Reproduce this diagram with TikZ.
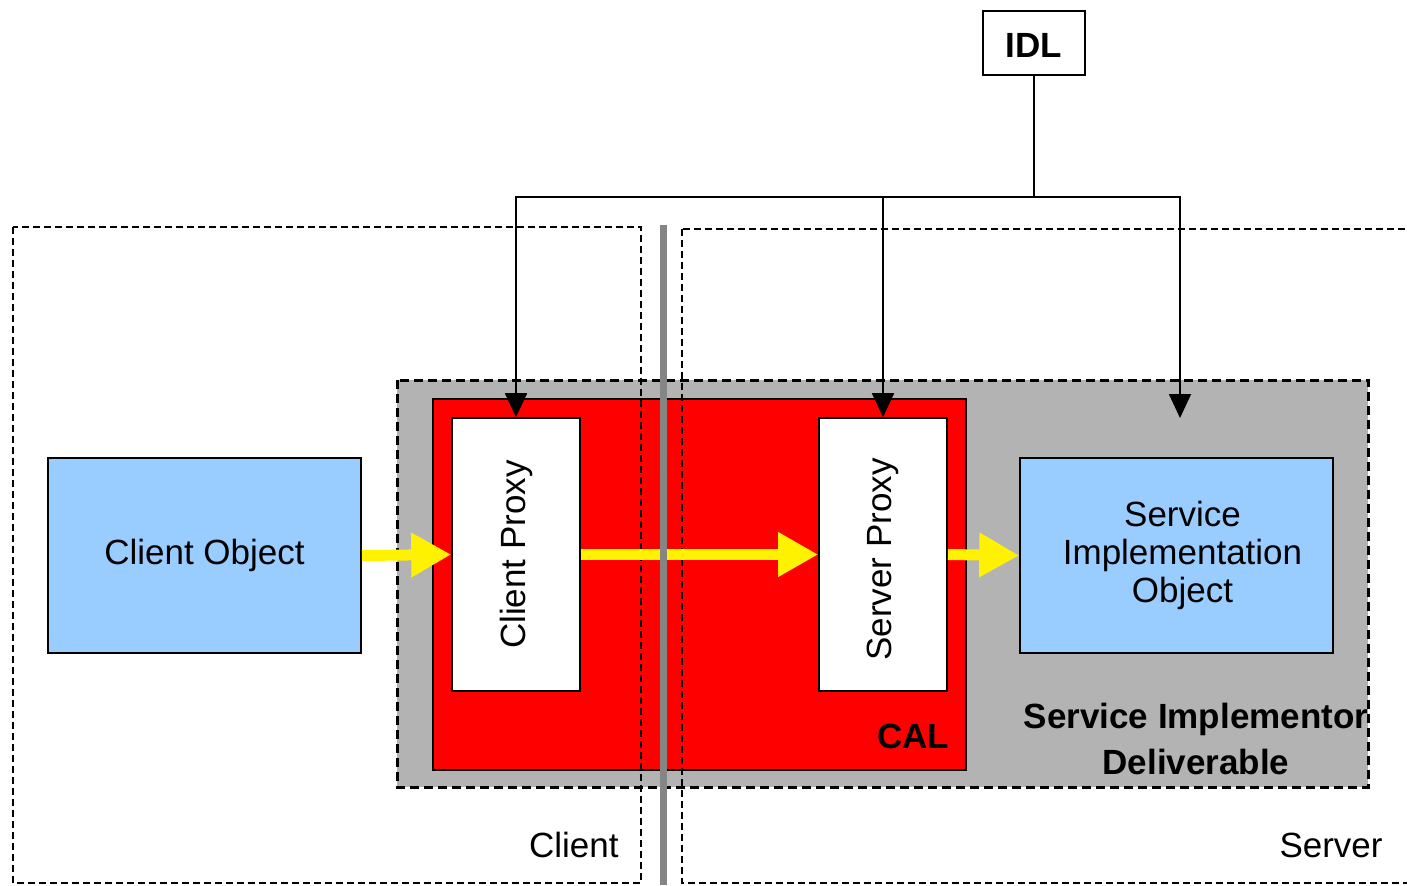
\documentclass[tikz,border=0pt]{standalone}
\usepackage{fontspec}
\setmainfont{Liberation Sans}
\usepackage{graphicx}
\usetikzlibrary{arrows.meta}
\definecolor{lblue}{HTML}{99CCFF}
\definecolor{lgray}{HTML}{B3B3B3}
\definecolor{bargray}{HTML}{858585}
\newcommand{\dfont}{\fontsize{17.5}{18.8}\selectfont}
\begin{document}
\begin{tikzpicture}[x=0.5pt,y=-0.5pt,
  zone/.style={draw, line width=1pt, dash pattern=on 3.5pt off 2pt},
  deliv/.style={draw, fill=lgray, line width=1.5pt, dash pattern=on 4.5pt off 2.5pt},
  objbox/.style={draw, fill=lblue, line width=0.8pt, font=\dfont, align=center, inner sep=0pt},
  proxybox/.style={draw, fill=white, line width=0.8pt, font=\dfont, inner sep=0pt, minimum width=64pt, minimum height=136.5pt},
  calbox/.style={draw, fill=red, line width=0.8pt, inner sep=0pt},
  yarrow/.style={draw=yellow, line width=5.5pt, -{Triangle[length=20pt,width=21pt]}},
  blk/.style={draw, line width=0.9pt, -{Triangle[length=12pt,width=11pt]}},
  lbl/.style={font=\dfont, inner sep=0pt},
  blbl/.style={font=\dfont\bfseries, inner sep=0pt, align=center}]
\useasboundingbox (0,0) rectangle (1407,885);
% deliverable area
\path[deliv] (397,380) rectangle (1368,787);
% CAL
\node[calbox, minimum width=266.5pt, minimum height=185.5pt] (cal) at (699.5,584.5) {};
\node[blbl] (caltext) at (913,736) {CAL};
% zones
\draw[zone] (13,227) rectangle (641,883);
\draw[zone] (682,229) rectangle (1440,883);
% proxies
\node[proxybox] (cp) at (516,554.5) {\rotatebox{90}{Client Proxy}};
\node[proxybox] (sp) at (883,554.5) {\rotatebox{90}{Server Proxy\hspace{5pt}}};
% objects
\node[objbox, minimum width=156.5pt, minimum height=97.5pt] (co) at (204.5,555.5) {Client Object};
\node[objbox, minimum width=156.5pt, minimum height=97.5pt] (sio) at (1176.5,555.5) {\hspace{6pt}Service\\\hspace{6pt}Implementation\\\hspace{6pt}Object};
% yellow arrows
\draw[yarrow] (co.east) -- (cp.west);
\draw[yarrow] (cp.east) -- (sp.west);
\draw[yarrow] (sp.east) -- (sio.west);
% separator bar
\fill[bargray] (660,225) rectangle (667,885);
% IDL
\node[draw, line width=0.8pt, font=\dfont\bfseries, minimum width=51pt, minimum height=32pt, inner sep=0pt, text depth=0pt] (idl) at (1034,43) {\raisebox{-2pt}{IDL}};
\coordinate (j) at (1034,197);
\coordinate (t3) at (1180,418);
\draw[line width=0.9pt] (idl.south) -- (j);
\draw[blk] (j) -| (cp.north);
\draw[blk] (j) -| (sp.north);
\draw[blk] (j) -| (t3);
% labels
\node[blbl] (sidtext) at (1196,739) {Service Implementor\\[4.5pt]Deliverable};
\node[lbl, anchor=east] (client) at (619,845) {Client};
\node[lbl, anchor=east] (server) at (1383,845) {Server};
\end{tikzpicture}
\end{document}
